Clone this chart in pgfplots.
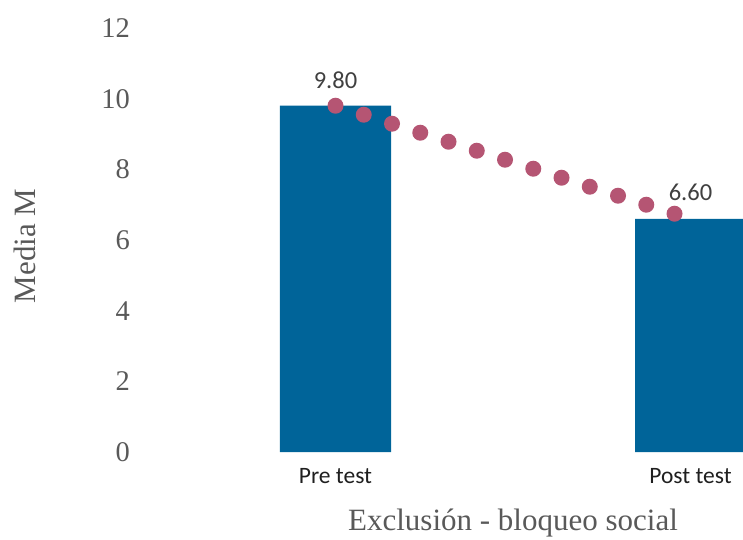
\documentclass[border=0pt]{standalone}
\usepackage{pgfplots}
\pgfplotsset{compat=1.18}
\usepackage{fontspec}
\setmainfont{Liberation Serif}
\newfontfamily\calib{Carlito}
\definecolor{barblue}{RGB}{0,100,153}
\definecolor{mauve}{RGB}{181,85,115}
\definecolor{labgray}{RGB}{89,89,89}
\definecolor{valgray}{RGB}{64,64,64}
\begin{document}
\begin{tikzpicture}
\begin{axis}[
  scale only axis, width=710pt, height=424pt,
  xmin=-0.5, xmax=1.5, ymin=0, ymax=12,
  xtick={0,1}, xticklabels={Pre test,Post test},
  ytick={0,2,...,12},
  axis line style={draw=none}, major tick length=0pt,
  /pgf/number format/assume math mode=true,
  yticklabel style={font=\fontsize{28.5}{30}\selectfont, text=labgray, anchor=east, inner sep=0pt, xshift=-28pt},
  xticklabel style={font=\calib\fontsize{23.5}{25}\selectfont, text=black!88, anchor=north, inner sep=0pt, yshift=-16pt},
  every axis x label/.style={at={(axis description cs:0.5,-0.186)}, anchor=base},
  every axis y label/.style={at={(axis description cs:-0.1873,0.486)}, rotate=90, anchor=center},
  xlabel={Exclusión - bloqueo social}, ylabel={Media M},
  label style={font=\fontsize{31}{33}\selectfont, text=labgray},
]
\addplot[ybar, bar width=111pt, fill=barblue, draw=none,
  nodes near coords, point meta=y,
  nodes near coords style={font=\calib\fontsize{24.5}{26}\selectfont, text=valgray, anchor=center, yshift=26pt,
    /pgf/number format/.cd, fixed, fixed zerofill, precision=2}]
  coordinates {(0,9.8) (1,6.6)};
\addplot[mauve, line width=16pt, line cap=round, dash pattern=on 0pt off 29.65pt]
  coordinates {(0,9.8) (1,6.6)};
\end{axis}
\pgfresetboundingbox
\useasboundingbox (-158pt,-87pt) rectangle (585pt,452pt);
\end{tikzpicture}
\end{document}
